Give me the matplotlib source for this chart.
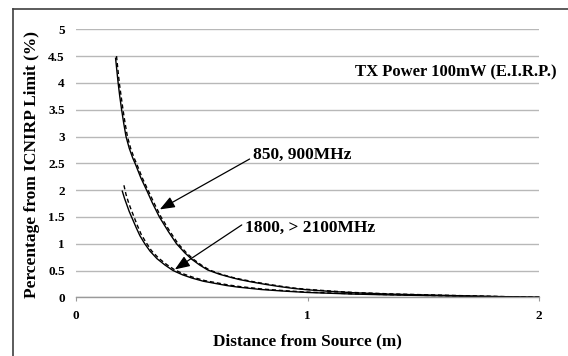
import matplotlib
matplotlib.use("Agg")
import matplotlib.pyplot as plt
from matplotlib.lines import Line2D

# ---- data ----
d_850_solid = [0.171, 0.176, 0.182, 0.189, 0.197, 0.206, 0.216, 0.230, 0.245, 0.257, 0.28, 0.305, 0.33, 0.36, 0.40, 0.434,
               0.47, 0.50, 0.535, 0.569, 0.62, 0.67, 0.707, 0.76, 0.82, 0.88, 0.94, 1.0, 1.1, 1.2, 1.35, 1.5, 1.75, 2.0]
y_850_solid = [4.46, 4.25, 4.0, 3.75, 3.5, 3.25, 3.0, 2.78, 2.6, 2.48, 2.23, 2.0, 1.76, 1.5, 1.22, 1.0,
               0.83, 0.71, 0.60, 0.51, 0.43, 0.37, 0.33, 0.285, 0.24, 0.20, 0.165, 0.14, 0.11, 0.085, 0.06, 0.045, 0.02, 0.0]

d_850_dash = [0.175, 0.181, 0.187, 0.195, 0.203, 0.212, 0.222, 0.236, 0.251, 0.263, 0.286, 0.311, 0.337, 0.367, 0.407, 0.441,
              0.477, 0.507, 0.542, 0.576, 0.627, 0.677, 0.714, 0.767, 0.827, 0.887, 0.947, 1.0, 1.1, 1.2, 1.35, 1.5, 1.75, 2.0]
y_850_dash = [4.50, 4.25, 4.0, 3.75, 3.5, 3.25, 3.0, 2.78, 2.6, 2.48, 2.23, 2.0, 1.76, 1.5, 1.22, 1.0,
              0.83, 0.71, 0.60, 0.51, 0.43, 0.37, 0.335, 0.29, 0.245, 0.205, 0.17, 0.148, 0.117, 0.09, 0.065, 0.048, 0.022, 0.0]

d_1800_solid = [0.200, 0.210, 0.220, 0.230, 0.240, 0.260, 0.276, 0.297, 0.32, 0.35, 0.385, 0.419, 0.46, 0.50, 0.55, 0.60,
                0.65, 0.70, 0.80, 0.90, 1.0, 1.1, 1.2, 1.35, 1.5, 1.75, 2.0]
y_1800_solid = [1.98, 1.84, 1.72, 1.60, 1.5, 1.30, 1.15, 1.0, 0.86, 0.72, 0.60, 0.50, 0.42, 0.36, 0.30, 0.26,
                0.22, 0.19, 0.145, 0.115, 0.09, 0.075, 0.06, 0.045, 0.033, 0.015, 0.0]

d_1800_dash = [0.207, 0.216, 0.226, 0.236, 0.246, 0.266, 0.282, 0.303, 0.326, 0.357, 0.392, 0.427, 0.468, 0.508, 0.558, 0.608,
               0.658, 0.708, 0.808, 0.905, 1.0, 1.1, 1.2, 1.35, 1.5, 1.75, 2.0]
y_1800_dash = [2.09, 1.92, 1.78, 1.66, 1.55, 1.33, 1.17, 1.02, 0.87, 0.73, 0.61, 0.51, 0.43, 0.37, 0.31, 0.27,
               0.23, 0.20, 0.153, 0.122, 0.097, 0.08, 0.065, 0.05, 0.036, 0.017, 0.0]

x_ticks = [0, 1, 2]
y_ticks = [0, 0.5, 1, 1.5, 2, 2.5, 3, 3.5, 4, 4.5, 5]
y_tick_labels = ["0", "0.5", "1", "1.5", "2", "2.5", "3", "3.5", "4", "4.5", "5"]

title_text = "TX Power 100mW (E.I.R.P.)"
label_850 = "850, 900MHz"
label_1800 = "1800, > 2100MHz"
xlabel = "Distance from Source (m)"
ylabel = "Percentage from ICNIRP Limit (%)"

# ---- figure ----
plt.rcParams['font.family'] = ['Liberation Serif', 'DejaVu Serif']
plt.rcParams['font.weight'] = 'bold'

W, H = 568, 356
fig = plt.figure(figsize=(W / 100, H / 100), dpi=100)
fig.patch.set_facecolor('white')
ax = fig.add_axes([76 / W, 1 - 297.3 / H, (539 - 76) / W, (297.3 - 29.3) / H])

ax.set_xlim(0, 2)
ax.set_ylim(0, 5)

for s in ['top', 'right', 'left']:
    ax.spines[s].set_visible(False)
ax.spines['bottom'].set_color('#9a9a9a')
ax.spines['bottom'].set_linewidth(1.0)

ax.set_yticks(y_ticks)
ax.set_yticklabels(y_tick_labels)
ax.set_xticks(x_ticks)
ax.set_xticklabels([str(t) for t in x_ticks])
ax.tick_params(axis='y', length=0, pad=8, labelsize=9.5)
ax.tick_params(axis='x', length=3, width=0.8, color='#9a9a9a', direction='out', pad=6, labelsize=9.5)
for lab in ax.get_xticklabels() + ax.get_yticklabels():
    lab.set_fontweight('bold')

ax.yaxis.grid(True, color='#b8b8b8', linewidth=1.0)
ax.set_axisbelow(True)

ax.plot(d_850_solid, y_850_solid, color='black', lw=1.0, clip_on=False)
ax.plot(d_850_dash, y_850_dash, color='black', lw=1.0, ls=(0, (3, 2)), clip_on=False)
ax.plot(d_1800_solid, y_1800_solid, color='black', lw=1.0, clip_on=False)
ax.plot(d_1800_dash, y_1800_dash, color='black', lw=1.0, ls=(0, (3, 2)), clip_on=False)

ax.text(1.207, 4.19, title_text, fontsize=12, fontweight='bold', va='center', ha='left')

aprops = dict(arrowstyle='-|>,head_length=0.9,head_width=0.35', color='black',
              lw=0.9, shrinkA=0, shrinkB=0, mutation_scale=10)
ax.annotate('', xy=(0.362, 1.64), xytext=(0.75, 2.58), arrowprops=aprops)
ax.text(0.763, 2.655, label_850, fontsize=12.5, fontweight='bold', va='center', ha='left')
ax.annotate('', xy=(0.427, 0.52), xytext=(0.716, 1.35), arrowprops=aprops)
ax.text(0.728, 1.29, label_1800, fontsize=12.5, fontweight='bold', va='center', ha='left')

fig.text(307.5 / W, 1 - 341 / H, xlabel, fontsize=12.4, fontweight='bold', ha='center', va='center')
fig.text(32 / W, 1 - 164.5 / H, ylabel, fontsize=12.5, fontweight='bold', ha='center', va='center', rotation=90)

# outer frame (left and top edges visible)
fig.add_artist(Line2D([13.3 / W, 13.3 / W], [0, 1 - 9 / H], color='#404040', lw=1.2, transform=fig.transFigure))
fig.add_artist(Line2D([13.3 / W, 1], [1 - 9 / H, 1 - 9 / H], color='#404040', lw=1.2, transform=fig.transFigure))

fig.savefig('out.png', dpi=100, facecolor='white')
